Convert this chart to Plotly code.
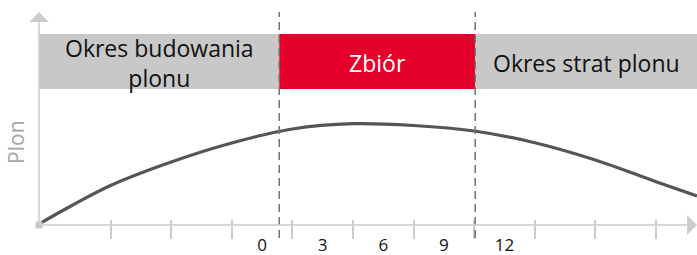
import plotly.graph_objects as go

# ---- data ----
months = [-11.04, -9.5, -7.5, -4.5, -1.5, 1.5, 4.5, 7.5, 10.5, 13.5, 16.5, 19.5, 21.53]
plon = [1, 18.5, 39.5, 63, 82, 96, 101.3, 99.5, 94, 82.3, 65, 43.3, 29]

tick_boundaries = [-7.5, -4.5, -1.5, 1.5, 4.5, 7.5, 10.5, 13.5, 16.5, 19.5]
label_vals = [0, 3, 6, 9, 12]
label_text = ["0", "3", "6", "9", "12"]

phase_names = ["Okres budowania<br>plonu", "Zbiór", "Okres strat plonu"]
phase_starts = [-11.04, 0.85, 10.55]
phase_ends = [0.85, 10.55, 21.53]
phase_colors = ["#C8C8C8", "#E4002B", "#C8C8C8"]
phase_text_colors = ["#111111", "#FFFFFF", "#111111"]

x_range = [-11.04, 21.53]
y_range = [0, 213]
band_lo, band_hi = 136, 191

FONT = "Open Sans"
AXIS_COL = "#CCCCCC"

fig = go.Figure()
fig.add_trace(go.Scatter(
    x=months, y=plon, mode="lines",
    line=dict(color="#555555", width=3.2, shape="spline", smoothing=1.0),
    hoverinfo="skip", showlegend=False, cliponaxis=True,
))
# origin marker
fig.add_trace(go.Scatter(
    x=[x_range[0]], y=[0], mode="markers",
    marker=dict(symbol="square", size=7, color="#C8C8C8"),
    cliponaxis=False, showlegend=False, hoverinfo="skip",
))
# invisible traces so overlay axes are drawn
fig.add_trace(go.Scatter(x=tick_boundaries, y=[0] * len(tick_boundaries),
                         xaxis="x2", mode="markers", marker=dict(opacity=0),
                         showlegend=False, hoverinfo="skip"))
fig.add_trace(go.Scatter(x=label_vals, y=[0] * len(label_vals),
                         xaxis="x3", mode="markers", marker=dict(opacity=0),
                         showlegend=False, hoverinfo="skip"))

shapes = []
for x0, x1, c in zip(phase_starts, phase_ends, phase_colors):
    shapes.append(dict(type="rect", xref="x", yref="y", x0=x0, x1=x1,
                       y0=band_lo, y1=band_hi, fillcolor=c, line=dict(width=0),
                       layer="below"))
for xv in [phase_starts[1], phase_starts[2]]:
    shapes.append(dict(type="line", xref="x", yref="paper", x0=xv, x1=xv,
                       y0=-0.061, y1=1.0,
                       line=dict(color="#707070", width=1.5, dash="8px,5px")))

annotations = []
for x0, x1, name, tc in zip(phase_starts, phase_ends, phase_names, phase_text_colors):
    annotations.append(dict(x=(x0 + x1) / 2, y=(band_lo + band_hi) / 2 - 1,
                            xref="x", yref="y", text=name, showarrow=False,
                            font=dict(family=FONT, size=23, color=tc)))
annotations += [
    dict(x=-0.035, y=0.39, xref="paper", yref="paper", text="Plon",
         textangle=-90, showarrow=False, xanchor="center", yanchor="middle",
         font=dict(family=FONT, size=21, color="#A6A6A6")),
    dict(x=x_range[0], y=y_range[1], ax=x_range[0], ay=0,
         xref="x", yref="y", axref="x", ayref="y", text="",
         showarrow=True, arrowhead=1, arrowsize=2.2, arrowwidth=1.5,
         arrowcolor=AXIS_COL),
    dict(x=x_range[1], y=0, ax=x_range[0], ay=0,
         xref="x", yref="y", axref="x", ayref="y", text="",
         showarrow=True, arrowhead=1, arrowsize=2.2, arrowwidth=1.5,
         arrowcolor=AXIS_COL),
]

fig.update_layout(
    width=697, height=255,
    margin=dict(l=39, r=0, t=12, b=30, autoexpand=False),
    paper_bgcolor="white", plot_bgcolor="white",
    shapes=shapes, annotations=annotations,
    xaxis=dict(range=x_range, showgrid=False, zeroline=False, showline=False,
               automargin=False,
               tickmode="array", tickvals=tick_boundaries, showticklabels=False,
               ticks="outside", ticklen=13, tickwidth=1.5, tickcolor=AXIS_COL),
    xaxis2=dict(range=x_range, overlaying="x", side="bottom", showgrid=False,
                zeroline=False, showline=False, tickmode="array", automargin=False,
                tickvals=tick_boundaries, showticklabels=False,
                ticks="inside", ticklen=5, tickwidth=1.5, tickcolor=AXIS_COL),
    xaxis3=dict(range=x_range, overlaying="x", side="bottom", showgrid=False,
                zeroline=False, showline=False, tickmode="array", automargin=False,
                tickvals=label_vals, ticktext=label_text,
                ticks="outside", ticklen=5, tickcolor="rgba(0,0,0,0)",
                tickfont=dict(family=FONT, size=17, color="#111111")),
    yaxis=dict(range=y_range, showgrid=False, zeroline=False, showline=False,
               automargin=False, showticklabels=False, ticks=""),
)

fig.write_html("out.html", config={"displayModeBar": False},
               post_script="document.body.style.margin='0';")
